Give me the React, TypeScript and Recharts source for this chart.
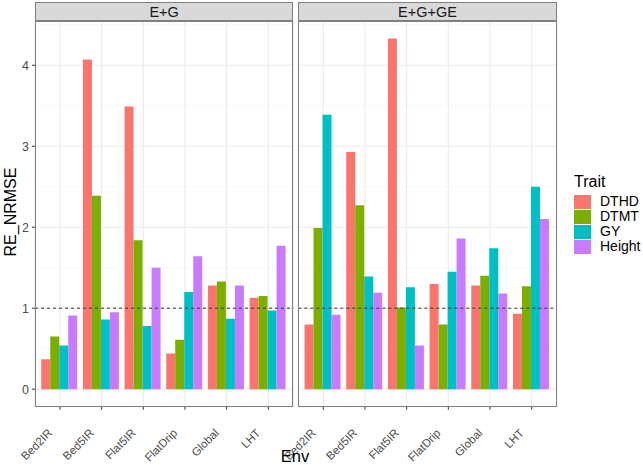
import React from 'react'
import { BarChart, Bar, XAxis, YAxis, CartesianGrid, ReferenceLine } from 'recharts'

const envs = ['Bed2IR', 'Bed5IR', 'Flat5IR', 'FlatDrip', 'Global', 'LHT']
const traits = ['DTHD', 'DTMT', 'GY', 'Height']
const traitColors = ['#F8766D', '#7CAE00', '#00BFC4', '#C77CFF']

// E+G panel
const egDTHD = [0.37, 4.07, 3.49, 0.44, 1.28, 1.13]
const egDTMT = [0.65, 2.39, 1.84, 0.61, 1.33, 1.15]
const egGY = [0.54, 0.86, 0.78, 1.2, 0.87, 0.97]
const egHeight = [0.91, 0.95, 1.5, 1.64, 1.28, 1.77]

// E+G+GE panel
const eggeDTHD = [0.8, 2.93, 4.33, 1.3, 1.28, 0.93]
const eggeDTMT = [1.99, 2.27, 1.01, 0.8, 1.4, 1.27]
const eggeGY = [3.39, 1.39, 1.26, 1.45, 1.74, 2.5]
const eggeHeight = [0.92, 1.19, 0.54, 1.86, 1.18, 2.1]

const yTicks = [0, 1, 2, 3, 4]
const yMinor = [0.5, 1.5, 2.5, 3.5, 4.5]
const yDomain: [number, number] = [-0.2165, 4.5465]

const FONT = '"Liberation Sans", Arial, sans-serif'
const BORDER = '#7f7f7f'

const build = (series: number[][]) =>
  envs.map((env, i) => {
    const row: Record<string, string | number> = { env }
    traits.forEach((t, k) => {
      row[t] = series[k][i]
    })
    return row
  })

const egData = build([egDTHD, egDTMT, egGY, egHeight])
const eggeData = build([eggeDTHD, eggeDTMT, eggeGY, eggeHeight])

const PLOT_TOP = 21
const PLOT_BOTTOM = 406.7
const CHART_H = 465

const XTick = ({ x, y, payload }: any) => (
  <g transform={`translate(${x - 7},${y + 22})`}>
    <text
      x={0}
      y={0}
      transform="rotate(-45)"
      textAnchor="end"
      fontSize={11.5}
      fill="#4D4D4D"
      fontFamily={FONT}
    >
      {payload.value}
    </text>
  </g>
)

interface PanelProps {
  data: Record<string, string | number>[]
  left: number
  width: number
  marginLeft: number
  marginRight: number
  showY: boolean
}

function Panel({ data, left, width, marginLeft, marginRight, showY }: PanelProps) {
  return (
    <div style={{ position: 'absolute', left, top: 0 }}>
      <BarChart
        width={width}
        height={CHART_H}
        data={data}
        margin={{ top: PLOT_TOP, right: marginRight, left: marginLeft, bottom: CHART_H - PLOT_BOTTOM - 50 }}
        barCategoryGap="5%"
        barGap={0}
      >
        <CartesianGrid
          horizontalValues={yMinor}
          vertical={false}
          stroke="#F2F2F2"
          strokeWidth={0.6}
        />
        <CartesianGrid stroke="#EBEBEB" strokeWidth={1.1} />
        <XAxis
          dataKey="env"
          height={50}
          padding={{ left: 4.15, right: 4.15 }}
          axisLine={false}
          tickLine={{ stroke: '#333333' }}
          tickSize={3}
          tick={<XTick />}
          interval={0}
        />
        <YAxis
          domain={yDomain}
          ticks={yTicks}
          allowDataOverflow
          hide={!showY}
          width={30}
          axisLine={false}
          tickLine={{ stroke: '#333333' }}
          tickSize={3}
          tickMargin={3}
          tick={{ fill: '#4D4D4D', fontSize: 12.5, fontFamily: FONT }}
        />
        {traits.map((t, k) => (
          <Bar key={t} dataKey={t} fill={traitColors[k]} isAnimationActive={false} />
        ))}
        <ReferenceLine y={1} stroke="#333333" strokeDasharray="3 3" strokeWidth={1} />
      </BarChart>
    </div>
  )
}

function Frame({ left, right, label }: { left: number; right: number; label: string }) {
  return (
    <>
      <div
        style={{
          position: 'absolute',
          left,
          top: 2,
          width: right - left,
          height: PLOT_TOP - 2,
          boxSizing: 'border-box',
          background: '#D9D9D9',
          border: `1.3px solid ${BORDER}`,
          fontFamily: FONT,
          fontSize: 14.5,
          color: '#1A1A1A',
          display: 'flex',
          alignItems: 'center',
          justifyContent: 'center',
        }}
      >
        {label}
      </div>
      <div
        style={{
          position: 'absolute',
          left,
          top: PLOT_TOP,
          width: right - left,
          height: PLOT_BOTTOM - PLOT_TOP,
          boxSizing: 'border-box',
          border: `1.3px solid ${BORDER}`,
          pointerEvents: 'none',
        }}
      />
    </>
  )
}

export default function App() {
  return (
    <div
      style={{
        position: 'absolute',
        left: 0,
        top: 0,
        width: 643,
        height: 465,
        background: '#ffffff',
        overflow: 'hidden',
        fontFamily: FONT,
      }}
    >
      <Panel data={egData} left={0} width={300} marginLeft={5} marginRight={6.7} showY />
      <Panel data={eggeData} left={255} width={388} marginLeft={43.3} marginRight={86.3} showY={false} />
      <Frame left={35} right={293.3} label="E+G" />
      <Frame left={298.3} right={556.7} label="E+G+GE" />

      <div
        style={{
          position: 'absolute',
          left: 11,
          top: 212,
          transform: 'translate(-50%, -50%) rotate(-90deg)',
          fontSize: 16,
          color: '#000',
          whiteSpace: 'nowrap',
        }}
      >
        RE_NRMSE
      </div>
      <div
        style={{
          position: 'absolute',
          left: 295,
          top: 456,
          transform: 'translate(-50%, -50%)',
          fontSize: 16.5,
          color: '#000',
        }}
      >
        Env
      </div>

      <div style={{ position: 'absolute', left: 574, top: 170, width: 69 }}>
        <div style={{ fontSize: 16, color: '#000', height: 24, lineHeight: '24px' }}>Trait</div>
        {traits.map((t, k) => (
          <div key={t} style={{ display: 'flex', alignItems: 'center', height: 15, whiteSpace: 'nowrap' }}>
            <div style={{ width: 17, height: 14, flexShrink: 0, background: traitColors[k] }} />
            <div style={{ marginLeft: 9, fontSize: 14, lineHeight: '15px', color: '#000' }}>{t}</div>
          </div>
        ))}
      </div>
    </div>
  )
}
